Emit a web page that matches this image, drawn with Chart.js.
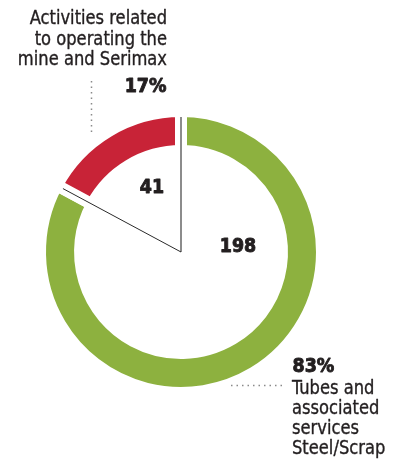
<!DOCTYPE html>
<html>
<head>
<meta charset="utf-8">
<script src="https://cdn.jsdelivr.net/npm/chart.js@4/dist/chart.umd.min.js"></script>
<style>
  html, body { margin: 0; padding: 0; background: #fff; }
  #wrap { position: relative; width: 395px; height: 462px; }
  #chart-parts { display: block; }
</style>
</head>
<body>
<div id="wrap"><canvas id="chart-parts" width="395" height="462"></canvas></div>
<script>
const segmentos = ['Tubes and associated services Steel/Scrap', 'Activities related to operating the mine and Serimax'];
const valores = [198, 41];
const cores = ['#8db13f', '#c82337'];
const percentuais = ['83%', '17%'];
const rotuloTopo = ['Activities related', 'to operating the', 'mine and Serimax'];
const rotuloBase = ['Tubes and', 'associated', 'services', 'Steel/Scrap'];

const GAP = 12;
const TEXT = '#231f20';
const FONT_REG = '19px "DejaVu Sans Condensed", "DejaVu Sans", sans-serif';
const FONT_BOLD = 'bold 20px "DejaVu Sans Condensed", "DejaVu Sans", sans-serif';

function pontilhado(ctx, x1, y1, x2, y2) {
  ctx.save();
  ctx.strokeStyle = '#8a8a8a';
  ctx.lineWidth = 1.5;
  ctx.setLineDash([1.5, 4]);
  ctx.beginPath();
  ctx.moveTo(x1, y1);
  ctx.lineTo(x2, y2);
  ctx.stroke();
  ctx.restore();
}

// text squeezed horizontally by sx, thickened with a thin outline
function texto(ctx, str, x, y, font, align, sx, peso) {
  ctx.save();
  ctx.font = font;
  ctx.textAlign = align;
  ctx.textBaseline = 'alphabetic';
  ctx.fillStyle = TEXT;
  ctx.strokeStyle = TEXT;
  ctx.lineWidth = peso;
  ctx.lineJoin = 'round';
  ctx.translate(x, y);
  ctx.scale(sx, 1);
  ctx.fillText(str, 0, 0);
  if (peso > 0) ctx.strokeText(str, 0, 0);
  ctx.restore();
}

// separators, values and callouts drawn over the ring
const extras = {
  id: 'extras',
  afterDatasetsDraw(chart) {
    const ctx = chart.ctx;
    const arcs = chart.getDatasetMeta(0).data;
    const cx = arcs[0].x;
    const cy = arcs[0].y;
    const r = arcs[0].outerRadius - GAP / 2;

    ctx.save();
    // vertical separator at the start of the ring
    const a0 = arcs[0].startAngle;
    ctx.strokeStyle = '#8c8c8c';
    ctx.lineWidth = 2;
    ctx.beginPath();
    ctx.moveTo(cx, cy);
    ctx.lineTo(cx + Math.cos(a0) * r, cy + Math.sin(a0) * r);
    ctx.stroke();

    // slanted separator between the two parts
    const a1 = arcs[1].startAngle;
    ctx.strokeStyle = '#2a2a2a';
    ctx.lineWidth = 1;
    ctx.beginPath();
    ctx.moveTo(cx, cy);
    ctx.lineTo(cx + Math.cos(a1) * (r - 1), cy + Math.sin(a1) * (r - 1));
    ctx.stroke();
    ctx.restore();

    // values inside the ring
    texto(ctx, String(valores[0]), cx + 57, cy, FONT_BOLD, 'center', 0.97, 0.9);
    texto(ctx, String(valores[1]), cx - 29, cy - 59, FONT_BOLD, 'center', 0.97, 0.9);

    // upper callout
    rotuloTopo.forEach((linha, i) => texto(ctx, linha, 167, 24 + i * 20.5, FONT_REG, 'right', 0.955, 0.35));
    texto(ctx, percentuais[1], 166.5, 92, FONT_BOLD, 'right', 0.97, 0.9);

    // lower callout
    texto(ctx, percentuais[0], 292.5, 372, FONT_BOLD, 'left', 0.97, 0.9);
    rotuloBase.forEach((linha, i) => texto(ctx, linha, 292, 394 + i * 20, FONT_REG, 'left', 0.955, 0.35));

    pontilhado(ctx, 91.5, 81, 91.5, 136);
    pontilhado(ctx, 231, 385.5, 286, 385.5);
  },
};

new Chart(document.getElementById('chart-parts'), {
  type: 'doughnut',
  data: {
    labels: segmentos,
    datasets: [
      {
        data: valores,
        backgroundColor: cores,
        borderColor: '#ffffff',
        borderWidth: GAP,
        borderAlign: 'center',
        hoverOffset: 0,
      },
    ],
  },
  options: {
    responsive: false,
    animation: false,
    radius: 141,
    cutout: '71.6%',
    layout: { padding: { left: 0, right: 33, top: 42, bottom: 0 } },
    plugins: {
      legend: { display: false },
      tooltip: { enabled: false },
    },
  },
  plugins: [extras],
});
</script>
</body>
</html>
